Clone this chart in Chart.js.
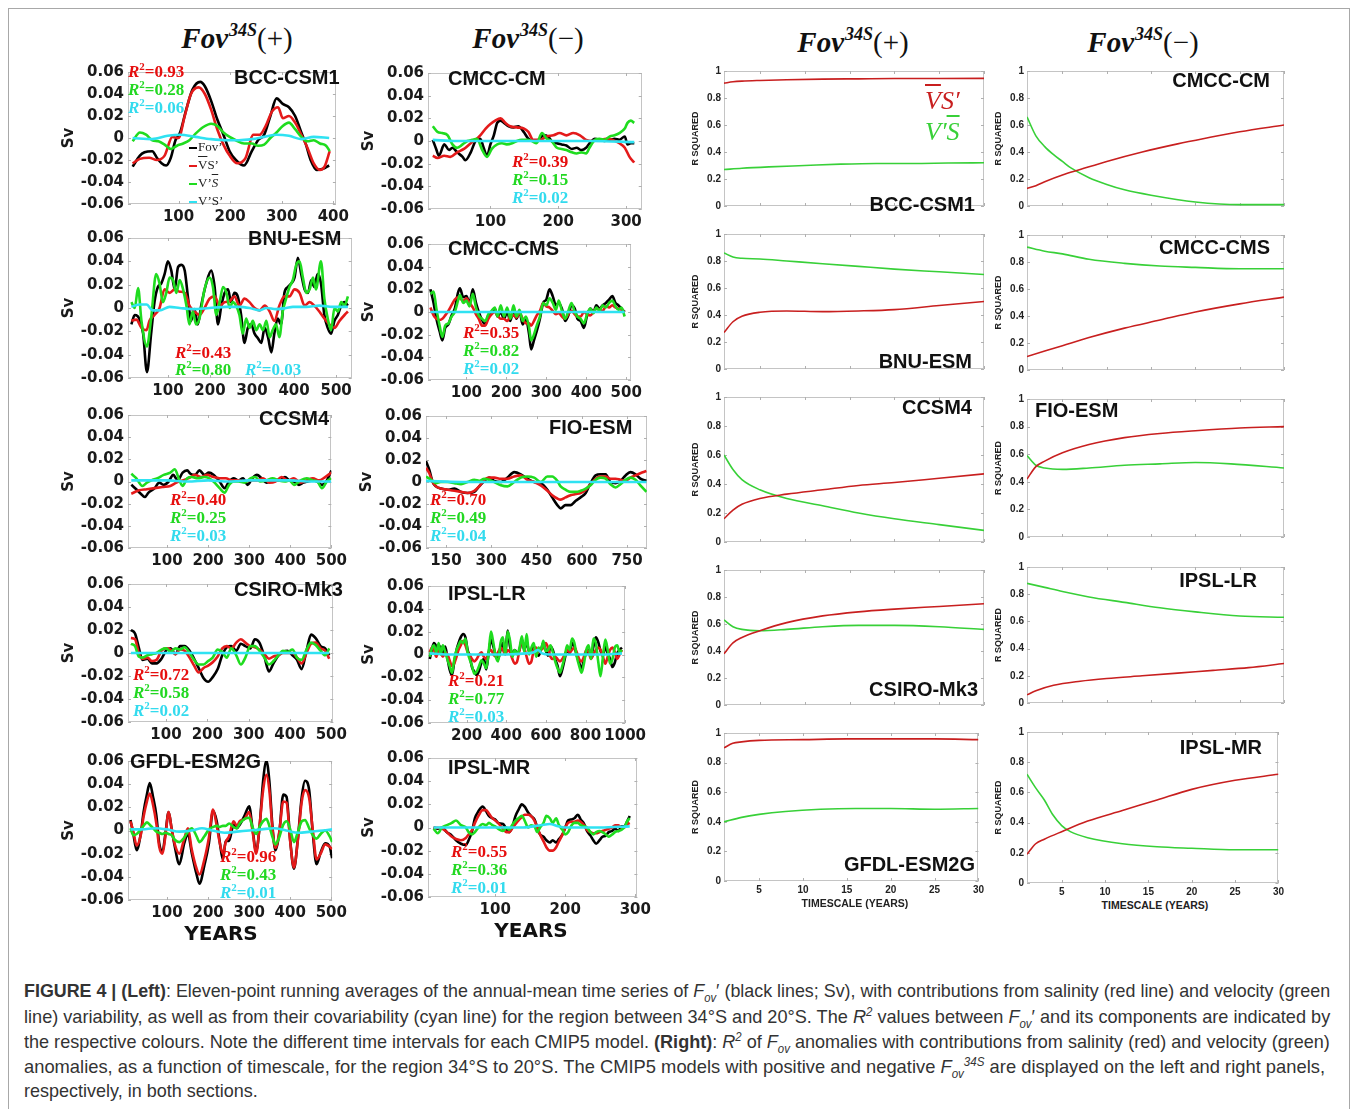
<!DOCTYPE html>
<html><head><meta charset="utf-8">
<script src="https://cdn.jsdelivr.net/npm/chart.js@4.4.1/dist/chart.umd.min.js"></script>
<style>
body{margin:0;width:1357px;height:1109px;background:#fff;position:relative;overflow:hidden;font-family:"Liberation Sans",Arial,sans-serif}
.abs{position:absolute}
.frame{position:absolute;left:8px;top:8px;width:1340px;height:1120px;border:1px solid #a8a8a8}
.hdr{position:absolute;font-family:"Liberation Serif","DejaVu Serif",serif;font-size:29px;color:#111;transform:translateX(-50%);white-space:nowrap}
.hdr b{font-style:italic}
.hdr sup{font-size:18px;vertical-align:0;position:relative;top:-12px;margin-left:1px}
.name{position:absolute;font-family:"Liberation Sans",Arial,sans-serif;font-weight:bold;font-size:20px;color:#111;white-space:nowrap}
.r2{position:absolute;font-family:"Liberation Serif","DejaVu Serif",serif;font-weight:bold;font-size:17px;white-space:nowrap}
.r2 i{font-style:italic}
.r2 sup{font-size:11px;vertical-align:0;position:relative;top:-7px}
.yrs{position:absolute;font-family:"DejaVu Sans",sans-serif;font-weight:bold;font-size:20px;color:#111;transform:translateX(-50%)}
.ts{position:absolute;font-family:"Liberation Sans",Arial,sans-serif;font-weight:bold;font-size:10.5px;color:#222;transform:translateX(-50%);white-space:nowrap}
.leg{position:absolute;font-family:"Liberation Serif",serif;font-size:13px;color:#222;white-space:nowrap;line-height:15px}
.leg span.l{display:inline-block;width:8px;height:0;border-top:2px solid;vertical-align:middle;margin-right:1px}
.ov{text-decoration:overline}
.rleg{position:absolute;font-family:"Liberation Serif",serif;font-style:italic;font-size:26px;white-space:nowrap}
.cap{position:absolute;left:24px;font-family:"Liberation Sans Narrow","Liberation Sans",Arial,sans-serif;font-size:19px;color:#333;white-space:nowrap;transform-origin:0 0}
.cap i{font-style:italic}
.cap sub{font-size:12px}
.cap sup{font-size:12px}
</style></head><body>
<div class="frame"></div>
<script>
// ---------------- DATA: left time-series panels (year, Sv) ----------------
const bccFov=[[11,-0.026],[25,-0.016],[34,-0.013],[49,-0.012],[58,-0.018],[67,-0.023],[76,-0.025],[85,-0.018],[94,-0.002],[103,0.005],[115,0.026],[127,0.044],[142,0.051],[151,0.047],[163,0.034],[175,0.017],[187,0.003],[199,-0.012],[211,-0.020],[227,-0.025],[242,-0.012],[254,-0.002],[266,0.003],[278,0.020],[290,0.036],[302,0.031],[314,0.028],[326,0.020],[338,0.005],[347,-0.006],[356,-0.020],[368,-0.029],[380,-0.028],[392,-0.025]];
const bccVS=[[11,-0.023],[25,-0.019],[43,-0.018],[58,-0.020],[73,-0.016],[88,0.001],[100,0.000],[112,0.020],[124,0.040],[139,0.046],[151,0.040],[163,0.026],[175,0.008],[187,-0.006],[199,-0.016],[214,-0.023],[230,-0.018],[245,0.003],[257,0.003],[269,0.011],[281,0.024],[293,0.028],[302,0.018],[314,0.020],[326,0.014],[338,0.003],[350,-0.009],[362,-0.023],[374,-0.029],[383,-0.026],[393,-0.012]];
const bccVpS=[[11,-0.003],[25,0.005],[37,0.003],[49,-0.002],[61,-0.003],[73,-0.006],[85,-0.010],[97,-0.007],[109,-0.005],[121,-0.002],[133,0.004],[148,0.010],[163,0.013],[175,0.011],[187,0.005],[199,0.001],[211,-0.002],[227,-0.005],[242,-0.005],[254,-0.007],[266,-0.006],[278,0.000],[290,0.005],[302,0.011],[314,0.014],[326,0.008],[338,0.001],[350,-0.003],[362,-0.002],[374,-0.005],[386,-0.007],[393,-0.012]];
const bccCov=[[11,0.000],[49,-0.001],[79,0.002],[103,0.003],[133,0.001],[163,-0.001],[193,-0.002],[217,-0.002],[242,-0.001],[266,0.001],[290,0.003],[314,0.002],[338,-0.001],[362,0.001],[392,0.000]];

const bnuFov=[[13,-0.014],[21,-0.006],[33,-0.010],[41,-0.022],[50,-0.055],[60,-0.022],[68,0.005],[76,0.018],[84,0.021],[92,0.029],[100,0.040],[108,0.032],[116,0.016],[124,0.035],[132,0.037],[140,0.032],[148,0.008],[155,-0.011],[163,-0.001],[171,-0.014],[179,0.002],[191,0.021],[203,0.032],[211,0.018],[219,-0.014],[227,0.002],[235,0.013],[243,0.016],[250,0.005],[258,0.013],[266,0.010],[274,-0.006],[282,-0.030],[290,-0.017],[298,-0.014],[306,-0.022],[314,-0.026],[322,-0.030],[330,-0.017],[338,-0.025],[346,-0.038],[353,-0.022],[361,-0.009],[369,-0.014],[377,0.013],[385,0.018],[393,0.021],[401,0.026],[409,0.043],[417,0.029],[425,0.016],[433,0.013],[441,0.024],[448,0.018],[456,0.029],[464,0.021],[472,-0.006],[480,-0.017],[488,-0.022],[496,-0.011],[504,-0.006],[512,0.002],[520,0.005],[528,0.002]];
const bnuVS=[[13,-0.011],[25,-0.010],[37,-0.017],[49,-0.019],[56,-0.011],[68,-0.006],[80,0.000],[92,0.016],[104,0.013],[116,0.016],[128,0.014],[140,0.013],[151,0.002],[163,-0.003],[175,-0.006],[187,0.000],[199,0.008],[211,0.010],[223,0.002],[235,0.005],[247,0.006],[258,0.010],[270,0.002],[282,0.008],[294,0.005],[306,0.000],[318,-0.002],[330,0.002],[342,-0.003],[353,-0.011],[365,0.002],[377,0.010],[389,0.010],[401,0.016],[413,0.013],[425,0.002],[437,0.005],[448,0.002],[460,-0.003],[472,-0.009],[484,-0.014],[496,-0.017],[508,-0.011],[520,-0.006],[528,-0.003]];
const bnuVpS=[[13,0.005],[21,0.000],[29,0.017],[37,-0.011],[50,-0.033],[60,-0.009],[72,0.029],[80,0.021],[88,0.005],[96,0.013],[104,0.026],[112,0.024],[120,0.013],[128,0.024],[136,0.016],[144,0.002],[151,-0.014],[159,-0.003],[167,-0.014],[175,-0.009],[187,0.016],[199,0.026],[207,0.018],[215,-0.006],[223,0.005],[231,0.018],[239,0.013],[247,0.000],[254,0.005],[262,0.002],[270,-0.006],[278,-0.022],[286,-0.009],[294,-0.017],[302,-0.011],[310,-0.019],[318,-0.014],[326,-0.019],[334,-0.011],[342,-0.025],[349,-0.019],[357,-0.014],[365,-0.025],[373,-0.003],[381,0.008],[389,0.018],[397,0.024],[405,0.037],[413,0.040],[421,0.026],[429,0.013],[437,0.016],[445,0.026],[452,0.016],[464,0.040],[472,0.008],[480,-0.009],[488,-0.019],[496,0.000],[504,-0.003],[512,0.005],[520,0.002],[528,0.010]];
const bnuCov=[[13,0.001],[33,0.003],[49,0.003],[64,-0.002],[80,-0.002],[104,0.001],[128,0.000],[159,-0.001],[199,0.000],[239,0.001],[270,0.001],[294,0.000],[318,-0.002],[334,0.000],[357,-0.001],[381,0.000],[397,0.001],[429,0.001],[460,0.002],[492,0.001],[528,0.001]];

const ccsmFov=[[13,-0.003],[25,-0.007],[36,-0.011],[46,-0.014],[55,-0.010],[70,-0.006],[81,-0.001],[92,-0.003],[104,0.000],[115,0.006],[126,0.001],[138,0.008],[149,0.010],[157,0.007],[168,0.006],[179,0.010],[191,0.006],[202,0.008],[213,0.006],[228,0.000],[240,-0.006],[251,0.000],[262,0.003],[274,0.001],[285,0.003],[296,-0.003],[308,0.003],[319,0.006],[330,0.003],[342,-0.001],[353,0.000],[364,0.001],[375,0.001],[387,0.004],[398,0.001],[409,0.000],[421,-0.003],[432,-0.001],[443,0.000],[455,0.001],[466,0.000],[477,-0.003],[489,0.001],[500,0.010]];
const ccsmVS=[[13,-0.011],[32,-0.008],[51,-0.007],[70,-0.006],[89,-0.005],[108,-0.004],[123,-0.001],[138,0.001],[153,0.003],[168,0.006],[183,0.004],[198,0.006],[213,0.004],[228,0.003],[243,0.003],[258,0.001],[274,0.001],[289,0.000],[304,0.001],[319,0.001],[334,0.003],[349,-0.001],[364,0.000],[379,0.004],[394,0.001],[409,0.003],[425,-0.001],[440,0.001],[455,0.003],[470,0.001],[485,0.004],[500,0.008]];
const ccsmVpS=[[13,0.007],[25,0.003],[40,-0.004],[51,-0.001],[62,0.001],[77,0.003],[92,0.006],[108,0.008],[119,0.011],[130,0.001],[138,-0.004],[149,0.003],[160,0.004],[175,0.003],[191,0.004],[202,0.003],[213,0.000],[228,-0.006],[240,-0.010],[251,-0.003],[262,0.000],[274,0.000],[289,-0.001],[304,0.003],[315,0.004],[326,0.000],[342,0.001],[357,0.003],[372,0.001],[387,0.000],[398,0.001],[409,-0.003],[425,0.001],[440,0.003],[455,0.001],[466,0.000],[477,-0.006],[489,0.000],[500,0.003]];
const ccsmCov=[[13,0.001],[60,0.001],[100,0.001],[150,0.000],[200,0.001],[250,0.000],[300,0.001],[350,0.001],[400,0.001],[450,0.000],[500,0.000]];

const csiroFov=[[15,0.020],[25,0.017],[34,0.005],[43,-0.006],[55,-0.005],[66,-0.009],[77,-0.009],[89,-0.005],[100,0.002],[111,0.004],[123,-0.001],[134,0.006],[145,0.006],[157,0.002],[168,-0.005],[179,-0.013],[191,-0.022],[202,-0.025],[213,-0.021],[225,-0.014],[236,-0.002],[247,0.005],[258,0.006],[270,0.002],[281,0.008],[292,0.006],[304,0.004],[315,0.012],[326,0.009],[338,-0.003],[349,-0.016],[360,-0.009],[372,-0.002],[383,0.001],[394,0.002],[406,-0.002],[417,-0.006],[428,-0.014],[440,0.002],[451,0.016],[462,0.013],[474,0.006],[485,0.004],[495,-0.002]];
const csiroVS=[[15,0.013],[25,0.012],[34,0.000],[43,-0.005],[55,-0.004],[66,-0.007],[77,-0.006],[89,0.002],[100,0.004],[111,0.003],[123,-0.001],[134,0.003],[145,0.002],[157,-0.004],[168,-0.011],[179,-0.017],[191,-0.013],[202,-0.011],[213,-0.008],[225,-0.003],[236,0.004],[247,0.006],[258,0.004],[270,0.009],[281,0.012],[292,0.009],[304,0.006],[315,0.005],[326,0.003],[338,-0.001],[349,-0.005],[360,-0.003],[372,-0.002],[383,0.000],[394,0.000],[406,0.000],[417,-0.004],[428,-0.009],[440,0.000],[451,0.008],[462,0.009],[474,0.004],[485,0.002],[495,-0.005]];
const csiroVpS=[[15,0.008],[25,0.006],[34,-0.003],[43,-0.004],[55,-0.002],[66,-0.001],[77,0.000],[89,0.003],[100,0.004],[111,0.001],[123,0.004],[134,0.003],[145,0.005],[157,0.000],[168,-0.006],[179,-0.010],[191,-0.010],[202,-0.007],[213,-0.004],[225,0.003],[236,0.001],[247,-0.004],[258,0.004],[270,-0.002],[281,-0.010],[292,-0.004],[304,0.006],[315,0.006],[326,0.002],[338,-0.004],[349,-0.010],[360,-0.007],[372,-0.002],[383,0.002],[394,0.001],[406,0.003],[417,-0.004],[428,-0.006],[440,0.003],[451,0.009],[462,0.007],[474,0.002],[485,-0.002],[495,0.004]];
const csiroCov=[[15,0.000],[100,0.000],[200,0.000],[300,0.000],[400,0.000],[495,0.000]];

const gfdlFov=[[11,0.009],[18,-0.003],[26,-0.017],[36,-0.003],[43,0.016],[51,0.031],[58,0.041],[66,0.029],[74,0.013],[81,-0.011],[89,-0.018],[96,-0.003],[104,0.016],[111,0.002],[119,-0.014],[130,-0.029],[142,-0.011],[151,-0.003],[160,-0.019],[172,-0.038],[179,-0.046],[191,-0.030],[202,-0.011],[212,0.017],[221,0.008],[228,-0.009],[236,-0.025],[243,-0.009],[251,-0.009],[262,0.005],[270,0.002],[277,0.005],[289,0.013],[300,0.021],[308,0.002],[317,-0.018],[325,0.002],[334,0.043],[342,0.060],[349,0.043],[357,0.002],[364,-0.017],[373,-0.003],[383,0.031],[391,0.029],[400,-0.009],[409,-0.033],[418,-0.009],[428,0.029],[436,0.043],[446,0.035],[455,-0.003],[464,-0.029],[474,-0.019],[485,-0.011],[496,-0.014],[502,-0.024]];
const gfdlVS=[[11,0.008],[18,-0.001],[26,-0.013],[36,-0.004],[43,0.012],[51,0.025],[58,0.032],[66,0.022],[74,0.006],[81,-0.014],[89,-0.020],[96,-0.005],[104,0.016],[111,0.002],[119,-0.012],[130,-0.020],[142,-0.007],[151,0.002],[160,-0.016],[172,-0.033],[179,-0.038],[191,-0.025],[202,-0.006],[212,0.018],[221,0.004],[228,-0.010],[236,-0.020],[243,-0.010],[251,-0.005],[262,0.008],[270,0.004],[277,0.008],[289,0.010],[300,0.016],[308,0.000],[317,-0.020],[325,0.003],[334,0.035],[342,0.048],[349,0.035],[357,0.000],[364,-0.015],[373,-0.002],[383,0.025],[391,0.024],[400,-0.010],[409,-0.032],[418,-0.010],[428,0.025],[436,0.035],[446,0.028],[455,0.000],[464,-0.025],[474,-0.020],[485,-0.012],[496,-0.014],[502,-0.016]];
const gfdlVpS=[[11,0.002],[18,-0.004],[26,-0.003],[36,0.001],[43,0.004],[51,0.007],[58,0.005],[66,0.002],[74,-0.001],[81,-0.002],[89,-0.003],[96,-0.002],[104,-0.003],[111,-0.004],[119,-0.008],[130,-0.010],[142,-0.006],[151,-0.001],[160,0.002],[172,-0.005],[179,-0.010],[191,-0.005],[202,0.001],[212,0.003],[221,0.004],[228,0.003],[236,0.004],[243,0.004],[251,0.006],[262,0.003],[270,0.002],[277,0.006],[289,0.010],[300,0.011],[308,0.003],[317,-0.003],[325,0.003],[334,0.008],[342,0.010],[349,0.004],[357,-0.006],[364,-0.012],[373,-0.006],[383,0.005],[391,0.008],[400,0.001],[409,-0.010],[418,-0.002],[428,0.008],[436,0.009],[446,0.002],[455,-0.004],[464,-0.007],[474,-0.003],[485,0.000],[496,-0.005],[502,-0.010]];
const gfdlCov=[[11,0.001],[40,0.001],[70,0.002],[100,0.001],[130,-0.001],[160,0.000],[185,0.002],[210,0.000],[240,-0.002],[270,-0.001],[300,0.000],[330,0.001],[360,0.002],[390,0.000],[420,-0.002],[450,-0.001],[480,0.000],[502,0.001]];

const cmccFov=[[15,0.001],[20,-0.007],[24,-0.013],[32,-0.003],[39,-0.008],[44,-0.006],[51,-0.010],[59,-0.014],[63,-0.017],[71,-0.010],[78,0.000],[85,0.002],[90,-0.006],[95,-0.013],[100,-0.003],[105,0.005],[110,0.016],[115,0.018],[120,0.016],[127,0.013],[134,0.012],[141,0.013],[149,0.008],[156,0.002],[163,0.000],[171,0.001],[178,0.005],[185,0.004],[190,0.000],[198,-0.002],[205,-0.003],[212,-0.004],[220,-0.007],[227,-0.006],[234,-0.008],[241,-0.006],[246,-0.002],[254,0.002],[261,0.001],[268,0.000],[276,0.001],[283,0.002],[290,0.001],[298,0.004],[302,-0.003],[307,-0.002],[312,-0.002]];
const cmccVS=[[15,-0.013],[22,-0.015],[32,-0.013],[41,-0.014],[51,-0.010],[61,-0.007],[71,-0.002],[78,0.001],[85,0.005],[93,0.011],[100,0.015],[107,0.018],[115,0.020],[122,0.016],[129,0.013],[139,0.012],[149,0.011],[156,0.008],[163,0.001],[173,0.001],[183,0.004],[193,0.005],[202,0.007],[212,0.005],[222,0.007],[232,0.005],[241,0.001],[251,0.000],[261,0.001],[271,0.002],[280,0.001],[290,-0.002],[298,-0.006],[305,-0.014],[312,-0.019]];
const cmccVpS=[[15,0.013],[22,0.008],[29,0.007],[37,0.005],[44,-0.003],[51,-0.006],[59,-0.003],[66,0.000],[73,0.001],[80,0.002],[88,-0.008],[95,-0.014],[102,-0.007],[110,-0.003],[117,-0.002],[124,-0.003],[132,-0.002],[139,0.000],[146,0.001],[154,0.001],[161,0.000],[168,-0.002],[176,0.007],[183,0.002],[190,0.000],[198,-0.006],[205,-0.007],[212,-0.008],[220,-0.010],[227,-0.011],[234,-0.010],[241,-0.011],[246,-0.006],[254,0.001],[261,0.002],[268,0.001],[276,0.004],[283,0.005],[290,0.007],[298,0.011],[302,0.016],[307,0.018],[312,0.016]];
const cmccCov=[[15,0.001],[50,0.000],[100,0.000],[150,0.000],[200,0.000],[250,0.000],[312,-0.001]];

const cmsFov=[[10,0.020],[18,0.008],[25,-0.006],[33,-0.017],[40,-0.025],[47,-0.014],[55,-0.011],[63,-0.003],[71,0.003],[79,0.017],[84,0.021],[92,0.013],[100,0.014],[108,0.008],[116,0.020],[124,0.008],[131,0.000],[139,-0.007],[147,-0.011],[155,-0.003],[163,0.000],[171,0.003],[178,-0.004],[186,0.000],[194,-0.006],[202,0.000],[210,-0.008],[218,0.003],[225,-0.006],[233,0.000],[241,-0.011],[249,-0.006],[257,-0.020],[262,-0.033],[269,-0.025],[276,-0.017],[284,-0.006],[292,0.008],[300,0.011],[308,0.020],[316,0.014],[324,0.006],[331,0.008],[339,0.003],[347,-0.008],[355,-0.003],[363,0.006],[371,0.003],[378,-0.006],[386,-0.008],[394,-0.014],[402,-0.003],[410,0.003],[418,0.000],[425,0.006],[433,0.003],[441,0.006],[449,0.008],[457,0.011],[465,0.014],[473,0.008],[480,0.006],[488,0.003],[496,0.000]];
const cmsVS=[[10,0.004],[18,-0.003],[25,-0.006],[33,-0.007],[40,-0.006],[47,-0.003],[55,0.001],[63,0.006],[71,0.011],[79,0.013],[84,0.012],[92,0.010],[100,0.012],[108,0.008],[116,0.004],[124,-0.002],[131,-0.006],[139,-0.012],[147,-0.012],[155,-0.006],[163,-0.002],[171,0.000],[178,-0.003],[186,-0.006],[194,-0.006],[202,-0.008],[210,-0.004],[218,-0.003],[225,-0.005],[233,-0.001],[241,-0.006],[249,-0.010],[257,-0.010],[262,-0.012],[269,-0.008],[276,-0.003],[284,0.001],[292,0.008],[300,0.005],[308,0.004],[316,0.001],[324,-0.002],[331,-0.001],[339,-0.004],[347,-0.006],[355,-0.002],[363,0.001],[371,-0.002],[378,-0.004],[386,-0.004],[394,0.000],[402,-0.002],[410,-0.003],[418,0.000],[425,0.003],[433,0.002],[441,0.001],[449,0.005],[457,0.004],[465,0.006],[473,0.004],[480,0.003],[488,0.002],[496,0.000]];
const cmsVpS=[[10,0.016],[18,0.018],[25,0.003],[33,-0.012],[40,-0.022],[47,-0.012],[55,-0.010],[63,-0.004],[71,0.000],[79,0.010],[84,0.015],[92,0.008],[100,0.010],[108,0.005],[116,0.016],[124,0.004],[131,-0.003],[139,-0.006],[147,-0.008],[155,-0.002],[163,0.001],[171,0.004],[178,-0.004],[186,0.006],[194,-0.004],[202,0.004],[210,-0.006],[218,0.006],[225,-0.004],[233,0.002],[241,-0.008],[249,-0.004],[257,-0.014],[262,-0.025],[269,-0.020],[276,-0.012],[284,-0.004],[292,0.008],[300,0.006],[308,0.012],[316,0.008],[324,0.002],[331,0.010],[339,0.001],[347,-0.006],[355,0.001],[363,0.008],[371,0.000],[378,-0.004],[386,-0.006],[394,-0.010],[402,-0.002],[410,0.003],[418,-0.001],[425,0.004],[433,0.001],[441,0.006],[449,0.004],[457,0.008],[465,0.010],[473,0.005],[480,0.002],[488,0.004],[496,-0.004]];
const cmsCov=[[10,0.000],[100,0.000],[200,0.000],[300,0.000],[400,0.000],[496,0.000]];

const fioFov=[[84,0.019],[95,0.011],[106,0.000],[117,-0.004],[133,-0.006],[156,-0.007],[178,-0.006],[200,-0.009],[222,-0.010],[244,-0.009],[260,-0.004],[277,0.001],[293,0.004],[310,0.001],[332,0.000],[354,0.004],[376,0.009],[398,0.007],[420,0.003],[442,0.000],[464,-0.001],[486,-0.007],[502,-0.014],[519,-0.021],[530,-0.024],[546,-0.021],[563,-0.021],[580,-0.017],[596,-0.014],[613,-0.010],[629,-0.001],[646,0.006],[662,0.007],[679,0.007],[695,0.000],[712,-0.001],[728,0.001],[745,0.006],[761,0.009],[778,0.007],[794,0.003],[814,0.001]];
const fioVS=[[84,0.013],[95,0.008],[106,0.000],[117,-0.004],[133,-0.006],[156,-0.007],[178,-0.008],[200,-0.009],[222,-0.010],[244,-0.008],[260,-0.004],[277,0.002],[293,0.004],[310,0.004],[332,0.003],[354,0.003],[376,0.005],[398,0.006],[420,0.002],[442,0.000],[464,-0.003],[486,-0.008],[502,-0.012],[519,-0.015],[530,-0.016],[546,-0.014],[563,-0.012],[580,-0.011],[596,-0.010],[613,-0.007],[629,-0.002],[646,0.003],[662,0.005],[679,0.005],[695,0.003],[712,0.003],[728,0.002],[745,0.001],[761,0.004],[778,0.006],[794,0.008],[814,0.010]];
const fioVpS=[[84,0.005],[95,0.003],[106,0.001],[117,-0.001],[133,0.000],[156,0.000],[178,-0.001],[200,-0.002],[222,0.000],[244,0.002],[260,0.001],[277,0.003],[293,0.002],[310,0.000],[332,-0.003],[354,-0.004],[376,0.000],[398,0.004],[420,0.005],[442,0.004],[464,0.000],[486,0.005],[502,0.005],[519,0.001],[530,-0.004],[546,-0.007],[563,-0.009],[580,-0.009],[596,-0.008],[613,-0.006],[629,-0.003],[646,0.002],[662,0.004],[679,0.003],[695,-0.002],[712,-0.005],[728,-0.002],[745,0.002],[761,0.004],[778,0.002],[794,-0.003],[814,-0.009]];
const fioCov=[[84,0.001],[200,0.000],[400,0.000],[600,0.000],[814,0.000]];

const lrFov=[[14,-0.004],[24,0.004],[35,0.010],[47,0.007],[59,0.001],[69,0.007],[80,-0.001],[92,0.007],[104,-0.004],[114,-0.013],[126,-0.018],[137,-0.007],[149,0.004],[159,0.010],[170,0.015],[182,0.018],[194,0.015],[205,0.004],[215,-0.001],[227,-0.011],[239,-0.015],[251,-0.018],[263,-0.014],[275,-0.007],[287,-0.004],[299,-0.013],[311,0.001],[323,0.013],[335,0.007],[347,-0.001],[359,-0.004],[371,0.004],[383,0.010],[395,0.001],[407,0.021],[419,0.007],[431,0.001],[443,0.004],[455,0.001],[467,0.004],[479,0.013],[491,0.004],[503,0.011],[515,0.003],[527,0.004],[539,0.007],[551,0.001],[563,-0.001],[575,0.004],[587,0.010],[599,0.004],[611,-0.001],[623,0.007],[635,0.004],[647,-0.004],[659,-0.010],[671,-0.019],[683,-0.013],[695,-0.004],[707,0.004],[720,0.001],[732,0.010],[744,0.007],[756,-0.001],[768,-0.007],[780,-0.013],[792,-0.004],[804,0.001],[816,0.004],[828,-0.001],[840,0.007],[852,0.015],[864,0.011],[876,0.003],[888,-0.001],[900,0.007],[912,0.001],[924,-0.004],[936,-0.011],[948,-0.007],[960,0.001],[972,0.004],[984,0.006]];
const lrVS=[[14,0.002],[24,0.006],[35,0.004],[47,-0.002],[59,0.004],[69,0.002],[80,-0.002],[92,0.002],[104,0.000],[114,-0.005],[126,-0.010],[137,-0.008],[149,-0.002],[159,0.004],[170,0.008],[182,0.012],[194,0.008],[205,0.002],[215,0.000],[227,-0.004],[239,-0.006],[251,-0.004],[263,0.000],[275,0.002],[287,-0.002],[299,-0.004],[311,0.002],[323,0.004],[335,0.000],[347,-0.002],[359,0.002],[371,0.006],[383,0.004],[395,0.000],[407,0.004],[419,0.002],[431,-0.004],[443,-0.008],[455,-0.006],[467,0.004],[479,0.012],[491,0.006],[503,-0.002],[515,-0.008],[527,-0.006],[539,0.004],[551,0.006],[563,0.002],[575,0.004],[587,0.006],[599,0.010],[611,0.006],[623,-0.002],[635,-0.004],[647,-0.002],[659,-0.004],[671,-0.006],[683,-0.004],[695,0.000],[707,0.004],[720,0.002],[732,0.004],[744,0.006],[756,0.002],[768,-0.004],[780,-0.006],[792,-0.002],[804,0.004],[816,0.002],[828,-0.004],[840,0.000],[852,0.004],[864,0.006],[876,0.004],[888,-0.002],[900,-0.008],[912,-0.002],[924,0.004],[936,0.006],[948,0.002],[960,-0.004],[972,0.000],[984,0.004]];
const lrVpS=[[14,-0.002],[24,0.005],[35,0.008],[47,0.002],[59,0.010],[69,0.000],[80,0.008],[92,0.002],[104,-0.005],[114,-0.010],[126,-0.016],[137,-0.005],[149,0.004],[159,0.008],[170,0.012],[182,0.010],[194,0.014],[205,0.002],[215,-0.004],[227,-0.010],[239,-0.017],[251,-0.015],[263,-0.010],[275,-0.005],[287,-0.008],[299,-0.012],[311,0.002],[323,0.020],[335,0.010],[347,-0.002],[359,-0.006],[371,0.010],[383,0.015],[395,0.000],[407,0.020],[419,0.012],[431,-0.002],[443,0.004],[455,0.000],[467,0.006],[479,0.016],[491,0.002],[503,0.018],[515,0.000],[527,0.006],[539,0.010],[551,-0.002],[563,0.006],[575,0.004],[587,0.012],[599,0.003],[611,0.004],[623,0.008],[635,0.002],[647,-0.006],[659,-0.012],[671,-0.016],[683,-0.010],[695,-0.002],[707,0.008],[720,0.004],[732,0.014],[744,0.010],[756,-0.002],[768,-0.010],[780,-0.016],[792,-0.008],[804,0.004],[816,0.008],[828,-0.004],[840,0.014],[852,0.010],[864,-0.006],[876,-0.019],[888,-0.002],[900,0.013],[912,0.004],[924,-0.008],[936,-0.004],[948,0.006],[960,0.008],[972,0.002],[984,0.004]];
const lrCov=[[14,0.001],[100,0.000],[200,0.000],[300,0.000],[400,0.000],[500,0.001],[540,0.002],[560,0.004],[580,0.001],[620,0.000],[700,0.000],[800,0.000],[900,0.000],[984,0.001]];

const mrFov=[[12,0.000],[18,-0.001],[24,0.000],[31,-0.004],[38,-0.007],[44,-0.011],[51,-0.014],[58,-0.015],[62,-0.011],[67,-0.003],[71,0.008],[76,0.014],[82,0.018],[87,0.014],[91,0.010],[96,0.008],[100,0.007],[104,0.004],[111,0.003],[116,-0.001],[120,-0.004],[124,0.000],[129,0.010],[133,0.015],[138,0.020],[142,0.018],[147,0.013],[151,0.010],[156,0.007],[160,0.000],[164,-0.006],[169,-0.008],[173,-0.011],[178,-0.013],[182,-0.011],[187,-0.013],[191,-0.010],[196,-0.006],[200,0.000],[204,0.006],[209,0.007],[213,0.008],[218,0.011],[222,0.007],[227,0.003],[231,-0.003],[236,-0.007],[240,-0.011],[244,-0.014],[249,-0.011],[253,-0.008],[258,-0.007],[262,-0.004],[267,-0.003],[271,-0.001],[276,-0.003],[280,0.001],[284,0.001],[289,0.006],[292,0.010]];
const mrVS=[[12,0.000],[24,-0.001],[31,-0.004],[38,-0.008],[44,-0.010],[51,-0.011],[58,-0.009],[62,-0.006],[67,-0.002],[71,0.004],[76,0.010],[82,0.015],[87,0.015],[91,0.012],[96,0.008],[100,0.006],[104,0.004],[111,-0.001],[116,-0.004],[120,-0.004],[124,-0.001],[129,0.003],[133,0.006],[138,0.009],[142,0.011],[147,0.011],[151,0.010],[156,0.006],[160,0.000],[164,-0.006],[169,-0.012],[173,-0.017],[178,-0.020],[182,-0.020],[187,-0.017],[191,-0.012],[196,-0.006],[200,0.000],[204,0.004],[209,0.005],[213,0.005],[218,0.006],[222,0.005],[227,0.002],[231,-0.002],[236,-0.004],[240,-0.005],[244,-0.005],[249,-0.004],[253,-0.003],[258,-0.002],[262,-0.001],[267,0.000],[271,0.002],[276,0.002],[280,0.000],[284,0.000],[289,0.003],[292,0.004]];
const mrVpS=[[12,-0.001],[18,-0.005],[24,0.000],[31,0.002],[38,0.004],[44,0.006],[51,0.002],[58,0.000],[62,-0.004],[67,-0.006],[71,-0.004],[76,0.000],[82,0.003],[87,0.002],[91,0.004],[96,0.002],[100,0.001],[104,-0.001],[111,-0.003],[116,0.000],[120,-0.002],[124,0.002],[129,0.006],[133,0.008],[138,0.010],[142,0.006],[147,0.000],[151,0.002],[156,0.001],[160,-0.004],[164,0.000],[169,0.004],[173,0.010],[178,0.008],[182,0.004],[187,0.008],[191,0.002],[196,-0.002],[200,-0.006],[204,-0.004],[209,0.002],[213,0.004],[218,0.004],[222,0.002],[227,0.001],[231,0.000],[236,-0.004],[240,-0.006],[244,-0.004],[249,-0.003],[253,-0.004],[258,-0.006],[262,-0.008],[267,-0.006],[271,-0.004],[276,-0.003],[280,-0.002],[284,0.000],[289,0.006],[292,0.008]];
const mrCov=[[12,0.000],[50,0.000],[100,0.000],[140,0.000],[165,0.002],[178,0.003],[190,0.001],[200,0.000],[250,0.000],[292,0.001]];

// ---------------- DATA: right R-squared panels (timescale in years, R^2) ----------------
const bccR2sal=[[1,0.91],[2,0.92],[3,0.925],[5,0.93],[8,0.935],[12,0.94],[16,0.942],[20,0.944],[25,0.945],[30,0.945]];
const bccR2vel=[[1,0.27],[3,0.28],[6,0.29],[10,0.30],[14,0.31],[18,0.315],[22,0.315],[26,0.318],[30,0.32]];
const bnuR2sal=[[1,0.27],[2,0.35],[3,0.39],[5,0.42],[8,0.43],[12,0.425],[16,0.43],[20,0.44],[25,0.47],[30,0.50]];
const bnuR2vel=[[1,0.86],[2,0.83],[3,0.82],[5,0.815],[8,0.80],[12,0.78],[16,0.76],[20,0.74],[25,0.72],[30,0.70]];
const ccsmR2sal=[[1,0.16],[2,0.22],[3,0.26],[5,0.30],[8,0.33],[12,0.36],[16,0.39],[20,0.41],[25,0.44],[30,0.47]];
const ccsmR2vel=[[1,0.60],[2,0.50],[3,0.43],[5,0.36],[8,0.30],[12,0.25],[16,0.20],[20,0.16],[25,0.12],[30,0.08]];
const csiroR2sal=[[1,0.38],[2,0.46],[3,0.50],[5,0.55],[8,0.61],[12,0.66],[16,0.69],[20,0.71],[25,0.73],[30,0.75]];
const csiroR2vel=[[1,0.63],[2,0.58],[3,0.56],[5,0.55],[8,0.56],[12,0.58],[16,0.59],[20,0.59],[25,0.58],[30,0.56]];
const gfdlR2sal=[[1,0.90],[2,0.93],[3,0.94],[5,0.95],[10,0.955],[15,0.96],[20,0.96],[25,0.96],[30,0.955]];
const gfdlR2vel=[[1,0.40],[3,0.43],[5,0.45],[8,0.47],[12,0.485],[16,0.49],[20,0.49],[25,0.485],[30,0.49]];
const cmccR2sal=[[1,0.13],[2,0.15],[3,0.18],[5,0.23],[7,0.27],[10,0.33],[14,0.40],[18,0.46],[21,0.50],[25,0.55],[30,0.60]];
const cmccR2vel=[[1,0.66],[2,0.52],[3,0.44],[4,0.38],[5,0.33],[6,0.28],[8,0.21],[10,0.16],[12,0.12],[15,0.08],[20,0.03],[25,0.01],[30,0.01]];
const cmsR2sal=[[1,0.10],[3,0.14],[5,0.18],[8,0.24],[12,0.31],[16,0.37],[20,0.43],[25,0.49],[30,0.54]];
const cmsR2vel=[[1,0.91],[3,0.88],[5,0.86],[8,0.82],[12,0.79],[16,0.77],[20,0.76],[25,0.75],[30,0.75]];
const fioR2sal=[[1,0.42],[2,0.51],[3,0.55],[5,0.61],[8,0.67],[12,0.72],[16,0.75],[20,0.77],[25,0.79],[30,0.80]];
const fioR2vel=[[1,0.59],[2,0.52],[3,0.50],[5,0.49],[8,0.50],[12,0.52],[16,0.53],[20,0.54],[24,0.53],[30,0.50]];
const lrR2sal=[[1,0.06],[2,0.09],[4,0.13],[7,0.16],[10,0.18],[14,0.20],[18,0.22],[22,0.24],[26,0.26],[30,0.29]];
const lrR2vel=[[1,0.88],[3,0.85],[5,0.82],[8,0.78],[12,0.74],[16,0.70],[20,0.67],[25,0.64],[30,0.63]];
const mrR2sal=[[1,0.19],[2,0.26],[3,0.29],[5,0.34],[8,0.41],[12,0.48],[16,0.55],[20,0.62],[25,0.68],[30,0.72]];
const mrR2vel=[[1,0.72],[2,0.63],[3,0.55],[4,0.45],[5,0.38],[6,0.34],[8,0.30],[12,0.26],[16,0.24],[20,0.23],[25,0.22],[30,0.22]];

// ---------------- Tick lists ----------------
const svTicks=[-0.06,-0.04,-0.02,0,0.02,0.04,0.06];
const r2Ticks=[0,0.2,0.4,0.6,0.8,1];
const timescaleTicks=[5,10,15,20,25,30];
const yearTicks100_400=[100,200,300,400];
const yearTicks100_500=[100,200,300,400,500];
const yearTicks100_300=[100,200,300];
const yearTicksFIO=[150,300,450,600,750];
const yearTicksLR=[200,400,600,800,1000];

// ---------------- styling ----------------
const COL={fov:'#000000',vs:'#e41a1a',vps:'#1fdc1f',cov:'#2fe2f2',rs:'#c81f1f',rv:'#38d038'};
const pts=a=>a.map(p=>({x:p[0],y:p[1]}));

const boxPlugin={id:'box',beforeDatasetsDraw(chart){
  const {ctx,chartArea:a,scales}=chart;ctx.save();
  ctx.strokeStyle='#c4c4c4';ctx.lineWidth=1;
  ctx.strokeRect(Math.round(a.left)+0.5,Math.round(a.top)+0.5,Math.round(a.width)-1,Math.round(a.height)-1);
  ctx.strokeStyle='#b0b0b0';ctx.beginPath();
  const tl=3;
  scales.x.ticks.forEach(t=>{const p=Math.round(scales.x.getPixelForValue(t.value))+0.5;ctx.moveTo(p,a.bottom);ctx.lineTo(p,a.bottom-tl);ctx.moveTo(p,a.top);ctx.lineTo(p,a.top+tl);});
  scales.y.ticks.forEach(t=>{const p=Math.round(scales.y.getPixelForValue(t.value))+0.5;ctx.moveTo(a.left,p);ctx.lineTo(a.left+tl,p);ctx.moveTo(a.right,p);ctx.lineTo(a.right-tl,p);});
  ctx.stroke();ctx.restore();}};

function makeCanvas(plot,padL,padT,padR,padB){
  const W=plot[2]-plot[0]+padL+padR,H=plot[3]-plot[1]+padT+padB;
  const d=document.createElement('div');d.className='abs';
  d.style.left=(plot[0]-padL)+'px';d.style.top=(plot[1]-padT)+'px';d.style.width=W+'px';d.style.height=H+'px';
  const c=document.createElement('canvas');c.width=W;c.height=H;c.style.width=W+'px';c.style.height=H+'px';
  d.appendChild(c);document.body.appendChild(d);return c;
}

function tsPanel(plot,xmin,xmax,xticks,fov,vs,vps,cov){
  const padL=68,padT=3,padR=3,padB=26;
  const c=makeCanvas(plot,padL,padT,padR,padB);
  const ds=(d,col,w)=>({data:pts(d),borderColor:col,borderWidth:w,pointRadius:0,fill:false,cubicInterpolationMode:'monotone'});
  new Chart(c,{type:'line',
    data:{datasets:[ds(cov,COL.cov,2.6),ds(vps,COL.vps,2.6),ds(vs,COL.vs,2.6),ds(fov,COL.fov,2.6)]},
    options:{responsive:false,animation:false,events:[],
      layout:{padding:{left:0,top:padT,right:padR,bottom:0}},
      plugins:{legend:{display:false},tooltip:{enabled:false}},
      scales:{
        x:{type:'linear',min:xmin,max:xmax,afterBuildTicks:s=>{s.ticks=xticks.map(v=>({value:v}));},afterFit:s=>{s.height=padB;},
           grid:{display:false,drawTicks:false},border:{display:false},
           ticks:{autoSkip:false,maxRotation:0,padding:4,color:'#1a1a1a',font:{family:'DejaVu Sans',weight:'bold',size:15},callback:v=>String(v)}},
        y:{type:'linear',min:-0.06,max:0.06,afterBuildTicks:s=>{s.ticks=svTicks.map(v=>({value:v}));},afterFit:s=>{s.width=padL;},
           grid:{display:false,drawTicks:false},border:{display:false},
           title:{display:true,text:'Sv',color:'#1a1a1a',padding:{top:0,bottom:0},font:{family:'DejaVu Sans',weight:'bold',size:15}},
           ticks:{padding:4,color:'#1a1a1a',font:{family:'DejaVu Sans',weight:'bold',size:15},callback:v=>v===0?'0':v.toFixed(2)}}
      }},
    plugins:[boxPlugin]});
}

function r2Panel(plot,sal,vel,showX){
  const padL=34,padT=3,padR=3,padB=showX?16:0;
  const c=makeCanvas(plot,padL,padT,padR,padB);
  const ds=(d,col)=>({data:pts(d),borderColor:col,borderWidth:1.6,pointRadius:0,fill:false,cubicInterpolationMode:'monotone'});
  new Chart(c,{type:'line',
    data:{datasets:[ds(sal,COL.rs),ds(vel,COL.rv)]},
    options:{responsive:false,animation:false,events:[],
      layout:{padding:{left:0,top:padT,right:padR,bottom:0}},
      plugins:{legend:{display:false},tooltip:{enabled:false}},
      scales:{
        x:{type:'linear',min:1,max:30,afterBuildTicks:s=>{s.ticks=timescaleTicks.map(v=>({value:v}));},afterFit:s=>{s.height=padB;},
           grid:{display:false,drawTicks:false},border:{display:false},
           ticks:{display:showX,autoSkip:false,maxRotation:0,padding:3,color:'#222',font:{family:'Liberation Sans',weight:'bold',size:10}}},
        y:{type:'linear',min:0,max:1,afterBuildTicks:s=>{s.ticks=r2Ticks.map(v=>({value:v}));},afterFit:s=>{s.width=padL;},
           grid:{display:false,drawTicks:false},border:{display:false},
           title:{display:true,text:'R SQUARED',color:'#222',padding:{top:0,bottom:0},font:{family:'Liberation Sans',weight:'bold',size:9}},
           ticks:{padding:3,color:'#222',font:{family:'Liberation Sans',weight:'bold',size:10},callback:v=>v===0?'0':(v===1?'1':v.toFixed(1))}}
      }},
    plugins:[boxPlugin]});
}

// left column (Fov+ time series)
tsPanel([128,62,350,204],2,405,yearTicks100_400,bccFov,bccVS,bccVpS,bccCov);
tsPanel([128,228,353,378],5,537,yearTicks100_500,bnuFov,bnuVS,bnuVpS,bnuCov);
tsPanel([128,405,348,548],5,500,yearTicks100_500,ccsmFov,ccsmVS,ccsmVpS,ccsmCov);
tsPanel([128,574,348,722],8,505,yearTicks100_500,csiroFov,csiroVS,csiroVpS,csiroCov);
tsPanel([128,751,348,900],5,502,yearTicks100_500,gfdlFov,gfdlVS,gfdlVpS,gfdlCov);
// second column (Fov- time series)
tsPanel([428,63,643,209],8,323,yearTicks100_300,cmccFov,cmccVS,cmccVpS,cmccCov);
tsPanel([428,234,643,380],4,512,yearTicks100_500,cmsFov,cmsVS,cmsVpS,cmsCov);
tsPanel([426,406,647,548],84,816,yearTicksFIO,fioFov,fioVS,fioVpS,fioCov);
tsPanel([428,576,647,723],5,1000,yearTicksLR,lrFov,lrVS,lrVpS,lrCov);
tsPanel([428,748,652,897],4,303,yearTicks100_300,mrFov,mrVS,mrVpS,mrCov);
// right side R^2 panels
r2Panel([724,65,984,215],bccR2sal,bccR2vel,false);
r2Panel([724,228,984,378],bnuR2sal,bnuR2vel,false);
r2Panel([724,391,984,551],ccsmR2sal,ccsmR2vel,false);
r2Panel([724,564,984,714],csiroR2sal,csiroR2vel,false);
r2Panel([724,727,984,881],gfdlR2sal,gfdlR2vel,true);
r2Panel([1027,65,1284,215],cmccR2sal,cmccR2vel,false);
r2Panel([1027,229,1284,379],cmsR2sal,cmsR2vel,false);
r2Panel([1027,393,1284,546],fioR2sal,fioR2vel,false);
r2Panel([1027,561,1284,712],lrR2sal,lrR2vel,false);
r2Panel([1027,726,1284,883],mrR2sal,mrR2vel,true);

// ---------------- text overlays ----------------
function add(cls,html,left,top,extra){const e=document.createElement('div');e.className=cls;e.innerHTML=html;e.style.left=left+'px';e.style.top=top+'px';if(extra)Object.assign(e.style,extra);document.body.appendChild(e);return e;}
const hdrP='<b>Fov</b><sup><b><i>34S</i></b></sup>(+)',hdrM='<b>Fov</b><sup><b><i>34S</i></b></sup>(\u2212)';
add('hdr',hdrP,237,22);add('hdr',hdrM,528,22);add('hdr',hdrP,853,26);add('hdr',hdrM,1143,26);

const names=[['BCC-CSM1',234,66],['BNU-ESM',248,227],['CCSM4',259,407],['CSIRO-Mk3',234,578],['GFDL-ESM2G',130,750],
             ['CMCC-CM',448,67],['CMCC-CMS',448,237],['FIO-ESM',549,416],['IPSL-LR',448,582],['IPSL-MR',448,756]];
names.forEach(n=>add('name',n[0],n[1],n[2]));
const rnames=[['BCC-CSM1',975,193,'r'],['BNU-ESM',972,350,'r'],['CCSM4',972,396,'r'],['CSIRO-Mk3',978,678,'r'],['GFDL-ESM2G',975,853,'r'],
              ['CMCC-CM',1270,69,'r'],['CMCC-CMS',1270,236,'r'],['FIO-ESM',1035,399,'l'],['IPSL-LR',1257,569,'r'],['IPSL-MR',1262,736,'r']];
rnames.forEach(n=>{const e=add('name',n[0],n[1],n[2]);if(n[3]==='r')e.style.transform='translateX(-100%)';});

const r2=(v,col,x,y)=>add('r2','<i>R</i><sup>2</sup>=' + v,x,y,{color:col});
const R2C={r:'#e60e0e',g:'#22d822',c:'#33dbee'};
[[['0.93','0.28','0.06'],128,62],[['0.40','0.25','0.03'],170,490],[['0.72','0.58','0.02'],133,665],[['0.96','0.43','0.01'],220,847],
 [['0.39','0.15','0.02'],512,152],[['0.35','0.82','0.02'],463,323],[['0.70','0.49','0.04'],430,490],[['0.21','0.77','0.03'],448,671],[['0.55','0.36','0.01'],451,842]]
 .forEach(g=>{r2(g[0][0],R2C.r,g[1],g[2]);r2(g[0][1],R2C.g,g[1],g[2]+18);r2(g[0][2],R2C.c,g[1],g[2]+36);});
r2('0.43',R2C.r,175,343);r2('0.80',R2C.g,175,360);r2('0.03',R2C.c,245,360);

// BCC legend
add('leg','<span class="l" style="border-color:#000"></span>Fov\u2019<br><span class="l" style="border-color:#e41a1a"></span><span class="ov">V</span>S\u2019<br><span class="l" style="border-color:#1fdc1f"></span>V\u2019<span class="ov"><i>S</i></span><br><span class="l" style="border-color:#2fe2f2"></span>V\u2019S\u2019',189,138,{lineHeight:'18px'});
// right legend
add('rleg','<span class="ov">V</span>S\u2032',925,86,{color:'#c81f1f'});
add('rleg','V\u2032<span class="ov">S</span>',925,117,{color:'#38d038'});

add('yrs','YEARS',221,921);add('yrs','YEARS',531,918);
add('ts','TIMESCALE (YEARS)',855,897);add('ts','TIMESCALE (YEARS)',1155,899);

// caption
const capLines=[
 ['<b>FIGURE 4 | (Left)</b>: Eleven-point running averages of the annual-mean time series of <i>F</i><sub><i>ov</i></sub>\u2032 (black lines; Sv), with contributions from salinity (red line) and velocity (green',1306],
 ['line) variability, as well as from their covariability (cyan line) for the region between 34\u00b0S and 20\u00b0S. The <i>R</i><sup><i>2</i></sup> values between <i>F</i><sub><i>ov</i></sub>\u2032 and its components are indicated by',1306],
 ['the respective colours. Note the different time intervals for each CMIP5 model. <b>(Right)</b>: <i>R</i><sup><i>2</i></sup> of <i>F</i><sub><i>ov</i></sub> anomalies with contributions from salinity (red) and velocity (green)',1306],
 ['anomalies, as a function of timescale, for the region 34\u00b0S to 20\u00b0S. The CMIP5 models with positive and negative <i>F</i><sub><i>ov</i></sub><sup><i>34S</i></sup> are displayed on the left and right panels,',1301],
 ['respectively, in both sections.',234]];
capLines.forEach((l,i)=>{const e=add('cap',l[0],24,980+i*25);const w=e.scrollWidth;e.style.transform='scaleX('+(l[1]/w)+')';});
</script>
</body></html>
